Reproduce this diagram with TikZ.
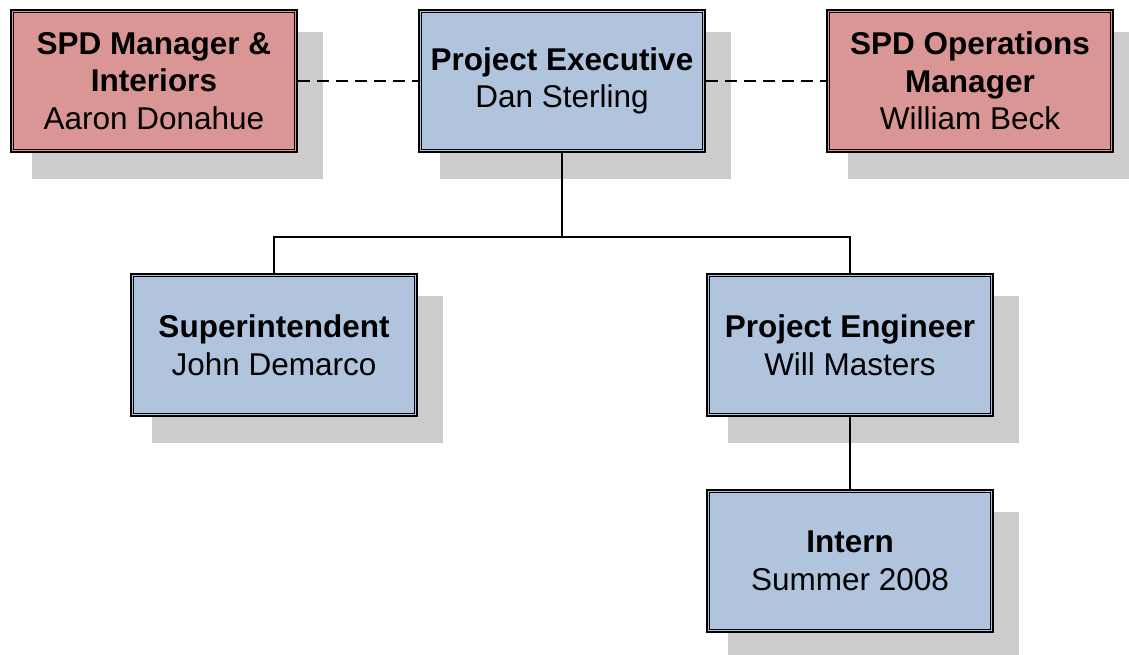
\documentclass[tikz,border=0pt]{standalone}
\usepackage{fontspec}
\setmainfont{Liberation Sans}
\usetikzlibrary{backgrounds}
\definecolor{boxred}{RGB}{217,150,148}
\definecolor{boxblue}{RGB}{176,196,222}
\definecolor{shadowgray}{RGB}{204,204,204}
\tikzset{
  orgbox/.style={draw=black, line width=2pt,
    minimum width=286pt, minimum height=142pt, inner sep=0pt,
    align=center, font=\fontsize{31.5}{37.5}\selectfont},
  redbox/.style={orgbox, fill=boxred},
  bluebox/.style={orgbox, fill=boxblue},
  innerline/.style={draw=black, line width=1.2pt},
  shadowbox/.style={fill=shadowgray},
  link/.style={draw=black, line width=1.5pt},
  dashlink/.style={draw=black, line width=1.5pt, dash pattern=on 12pt off 7pt}
}
\begin{document}
\begin{tikzpicture}[x=1pt,y=-1pt]
\useasboundingbox (0,0) rectangle (1129,654);
\node[redbox] (mgr) at (154,81) {\textbf{SPD Manager \&}\\\textbf{Interiors}\\Aaron Donahue};
\node[bluebox] (exec) at (562,81) {\textbf{Project Executive}\\Dan Sterling};
\node[redbox] (ops) at (970,81) {\textbf{SPD Operations}\\\textbf{Manager}\\William Beck};
\node[bluebox] (sup) at (274,345) {\textbf{Superintendent}\\John Demarco};
\node[bluebox] (eng) at (850,345) {\textbf{Project Engineer}\\Will Masters};
\node[bluebox] (intern) at (850,561) {\textbf{Intern}\\Summer 2008};
\foreach \n in {mgr,exec,ops,sup,eng,intern}{
  \draw[innerline] ([shift={(3.5,3.5)}]\n.north west) rectangle ([shift={(-3.5,-3.5)}]\n.south east);
}
\begin{scope}[on background layer]
  \fill[white] (0,0) rectangle (1129,654);
  \foreach \n in {mgr,exec,ops,sup,eng,intern}{
    \fill[shadowbox] ([shift={(22,23)}]\n.north west) rectangle ([shift={(25,26)}]\n.south east);
  }
\end{scope}
\coordinate (bus) at (562,237);
\draw[link] (exec.south) -- (bus) -| (sup.north);
\draw[link] (bus) -| (eng.north);
\draw[link] (eng.south) -- (intern.north);
\draw[dashlink] (mgr.east) -- (exec.west);
\draw[dashlink] (exec.east) -- (ops.west);
\end{tikzpicture}
\end{document}
